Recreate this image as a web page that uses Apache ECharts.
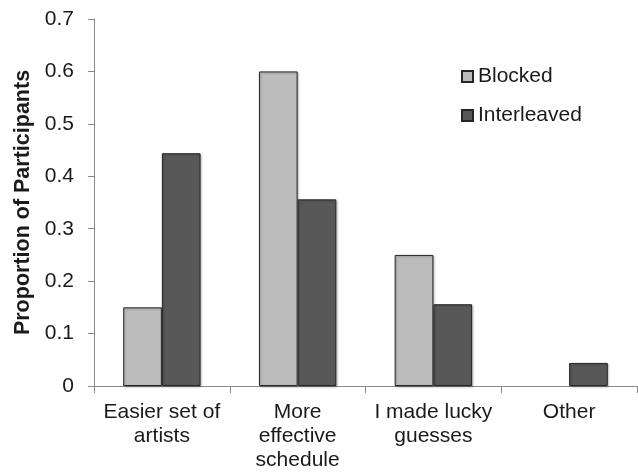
<!DOCTYPE html>
<html>
<head>
<meta charset="utf-8">
<script src="https://cdn.jsdelivr.net/npm/echarts@6/dist/echarts.min.js"></script>
<style>
  html, body { margin: 0; padding: 0; background: #fff; }
  #chart { width: 638px; height: 472px; }
</style>
</head>
<body>
<div id="chart"></div>
<script>
// Reasons participants gave, grouped by study condition
const categories = ['Easier set of\nartists', 'More\neffective\nschedule', 'I made lucky\nguesses', 'Other'];
const blocked = [0.15, 0.6, 0.25, 0];
const interleaved = [0.444, 0.356, 0.156, 0.044];
const yTicks = { min: 0, max: 0.7, interval: 0.1 };

const textColor = '#1a1a1a';
const axisColor = '#8a8a8a';
const fontFamily = '"Liberation Sans", Arial, sans-serif';

const barShadow = {
  shadowBlur: 2,
  shadowOffsetX: 1,
  shadowOffsetY: 1,
  shadowColor: 'rgba(0,0,0,0.25)'
};

// Zero-height bars draw nothing (no outline stub on the baseline)
const toBarData = values => values.map(v =>
  v === 0 ? { value: v, itemStyle: { borderWidth: 0, shadowBlur: 0, shadowOffsetX: 0, shadowOffsetY: 0 } } : v
);

const chart = echarts.init(document.getElementById('chart'), null, { renderer: 'canvas' });
chart.setOption({
  animation: false,
  backgroundColor: '#ffffff',
  textStyle: { fontFamily: fontFamily, color: textColor },
  grid: { left: 94, right: 1, top: 19, bottom: 86, containLabel: false },
  legend: {
    orient: 'vertical',
    left: 461,
    top: 66,
    padding: 0,
    itemWidth: 11,
    itemHeight: 11,
    itemGap: 18,
    icon: 'rect',
    textStyle: { fontSize: 21, color: textColor, fontFamily: fontFamily },
    data: ['Blocked', 'Interleaved']
  },
  xAxis: {
    type: 'category',
    data: categories,
    axisLine: { lineStyle: { color: axisColor, width: 1 } },
    axisTick: { show: true, length: 7, lineStyle: { color: axisColor } },
    axisLabel: {
      interval: 0,
      fontSize: 21,
      lineHeight: 24,
      color: textColor,
      margin: 14,
      fontFamily: fontFamily
    }
  },
  yAxis: {
    type: 'value',
    min: yTicks.min,
    max: yTicks.max,
    interval: yTicks.interval,
    name: 'Proportion of Participants',
    nameLocation: 'middle',
    nameGap: 60,
    nameTextStyle: { fontSize: 21.5, fontWeight: 'bold', color: textColor, fontFamily: fontFamily },
    splitLine: { show: false },
    axisLine: { show: true, lineStyle: { color: axisColor, width: 1 } },
    axisTick: { show: true, length: 6, lineStyle: { color: axisColor } },
    axisLabel: {
      fontSize: 21,
      color: textColor,
      margin: 20,
      fontFamily: fontFamily,
      formatter: v => (Math.round(v * 10) / 10).toString()
    }
  },
  series: [
    {
      name: 'Blocked',
      type: 'bar',
      data: toBarData(blocked),
      barGap: '0%',
      barCategoryGap: '43%',
      itemStyle: Object.assign({ color: '#bcbcbc', borderColor: '#262626', borderWidth: 1 }, barShadow)
    },
    {
      name: 'Interleaved',
      type: 'bar',
      data: toBarData(interleaved),
      barGap: '0%',
      barCategoryGap: '43%',
      itemStyle: Object.assign({ color: '#585858', borderColor: '#262626', borderWidth: 1 }, barShadow)
    }
  ]
});
</script>
</body>
</html>
